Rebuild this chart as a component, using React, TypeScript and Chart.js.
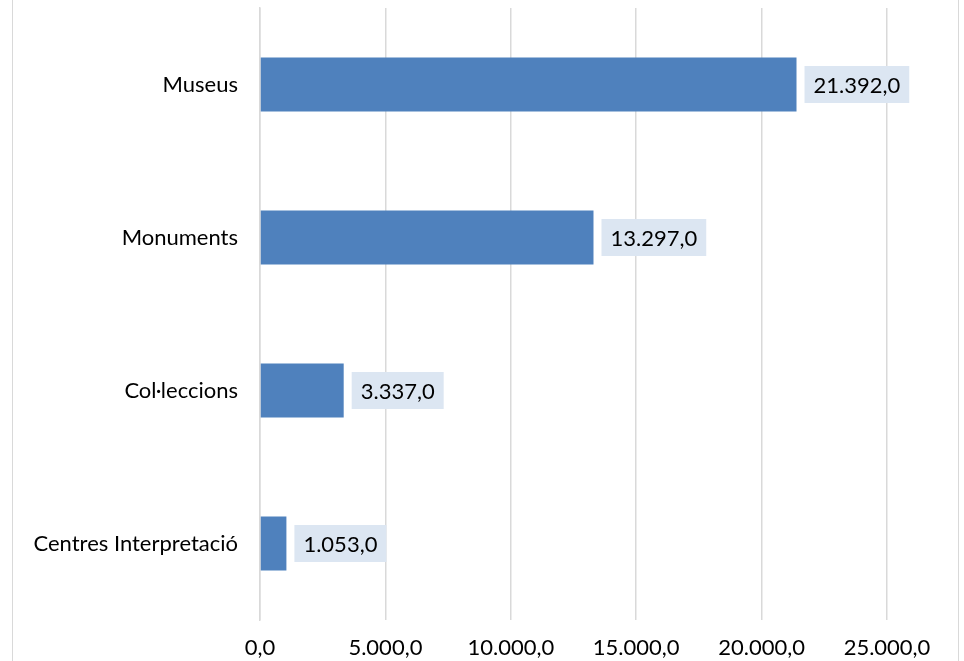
import React, { useEffect, useRef } from "react";
import { Chart, registerables } from "chart.js";

Chart.register(...registerables);

const categories = ["Museus", "Monuments", "Col·leccions", "Centres Interpretació"];
const values = [21392, 13297, 3337, 1053];
const xMin = 0;
const xMax = 25000;
const xStep = 5000;

const FONT = "Lato";
const TEXT_SIZE = 22;

function fmt(n: number): string {
  const fixed = n.toFixed(1);
  const [intPart, dec] = fixed.split(".");
  const withDots = intPart.replace(/\B(?=(\d{3})+(?!\d))/g, ".");
  return withDots + "," + dec;
}

const labelPlugin = {
  id: "valueBoxes",
  afterDatasetsDraw(chart: any) {
    const ctx = chart.ctx;
    const meta = chart.getDatasetMeta(0);
    ctx.save();
    ctx.font = `${TEXT_SIZE}px ${FONT}`;
    meta.data.forEach((bar: any, i: number) => {
      const text = fmt(values[i]);
      const w = ctx.measureText(text).width + 18;
      const h = 37;
      const x0 = bar.x + 8;
      const y0 = bar.y - h / 2;
      ctx.fillStyle = "#DCE6F2";
      ctx.fillRect(x0, y0, w, h);
      ctx.fillStyle = "#000000";
      ctx.textAlign = "left";
      ctx.textBaseline = "middle";
      ctx.fillText(text, x0 + 9, bar.y + 1);
    });
    ctx.restore();
  },
};

export default function App() {
  const ref = useRef<HTMLCanvasElement | null>(null);

  useEffect(() => {
    document.body.style.margin = "0";
    const canvas = ref.current!;
    const chart = new Chart(canvas, {
      type: "bar",
      data: {
        labels: categories,
        datasets: [
          {
            data: values,
            backgroundColor: "#4F81BD",
            borderWidth: 0,
            barPercentage: 0.353,
            categoryPercentage: 1,
          },
        ],
      },
      options: {
        indexAxis: "y",
        animation: false,
        responsive: false,
        maintainAspectRatio: false,
        layout: { padding: { left: 0, right: 77, top: 8, bottom: 0 } },
        plugins: {
          legend: { display: false },
          tooltip: { enabled: false },
          title: { display: false },
        },
        scales: {
          x: {
            min: xMin,
            max: xMax,
            ticks: {
              stepSize: xStep,
              color: "#000000",
              font: { family: FONT, size: TEXT_SIZE },
              padding: 15,
              maxRotation: 0,
              callback: (v: any) => fmt(Number(v)),
            },
            grid: { color: "#D9D9D9", lineWidth: 1.5, drawTicks: false },
            border: { display: false },
            afterFit: (s: any) => {
              s.height = 41;
              s.paddingLeft = 0;
              s.paddingRight = 0;
            },
          },
          y: {
            ticks: {
              color: "#000000",
              font: { family: FONT, size: TEXT_SIZE },
              padding: 22,
            },
            grid: { display: false, drawTicks: false },
            border: { display: true, color: "#D9D9D9", width: 1.5 },
            afterFit: (s: any) => {
              s.width = 260;
              s.paddingTop = 0;
              s.paddingBottom = 0;
            },
          },
        },
      },
      plugins: [labelPlugin],
    });
    return () => chart.destroy();
  }, []);

  return (
    <div style={{ position: "relative", width: 964, height: 661, overflow: "hidden", background: "#fff" }}>
      <canvas ref={ref} width={964} height={661} style={{ display: "block" }} />
      <div
        style={{
          position: "absolute",
          left: 12,
          top: -2,
          width: 945,
          height: 665,
          border: "1.5px solid #D9D9D9",
          pointerEvents: "none",
        }}
      />
    </div>
  );
}
